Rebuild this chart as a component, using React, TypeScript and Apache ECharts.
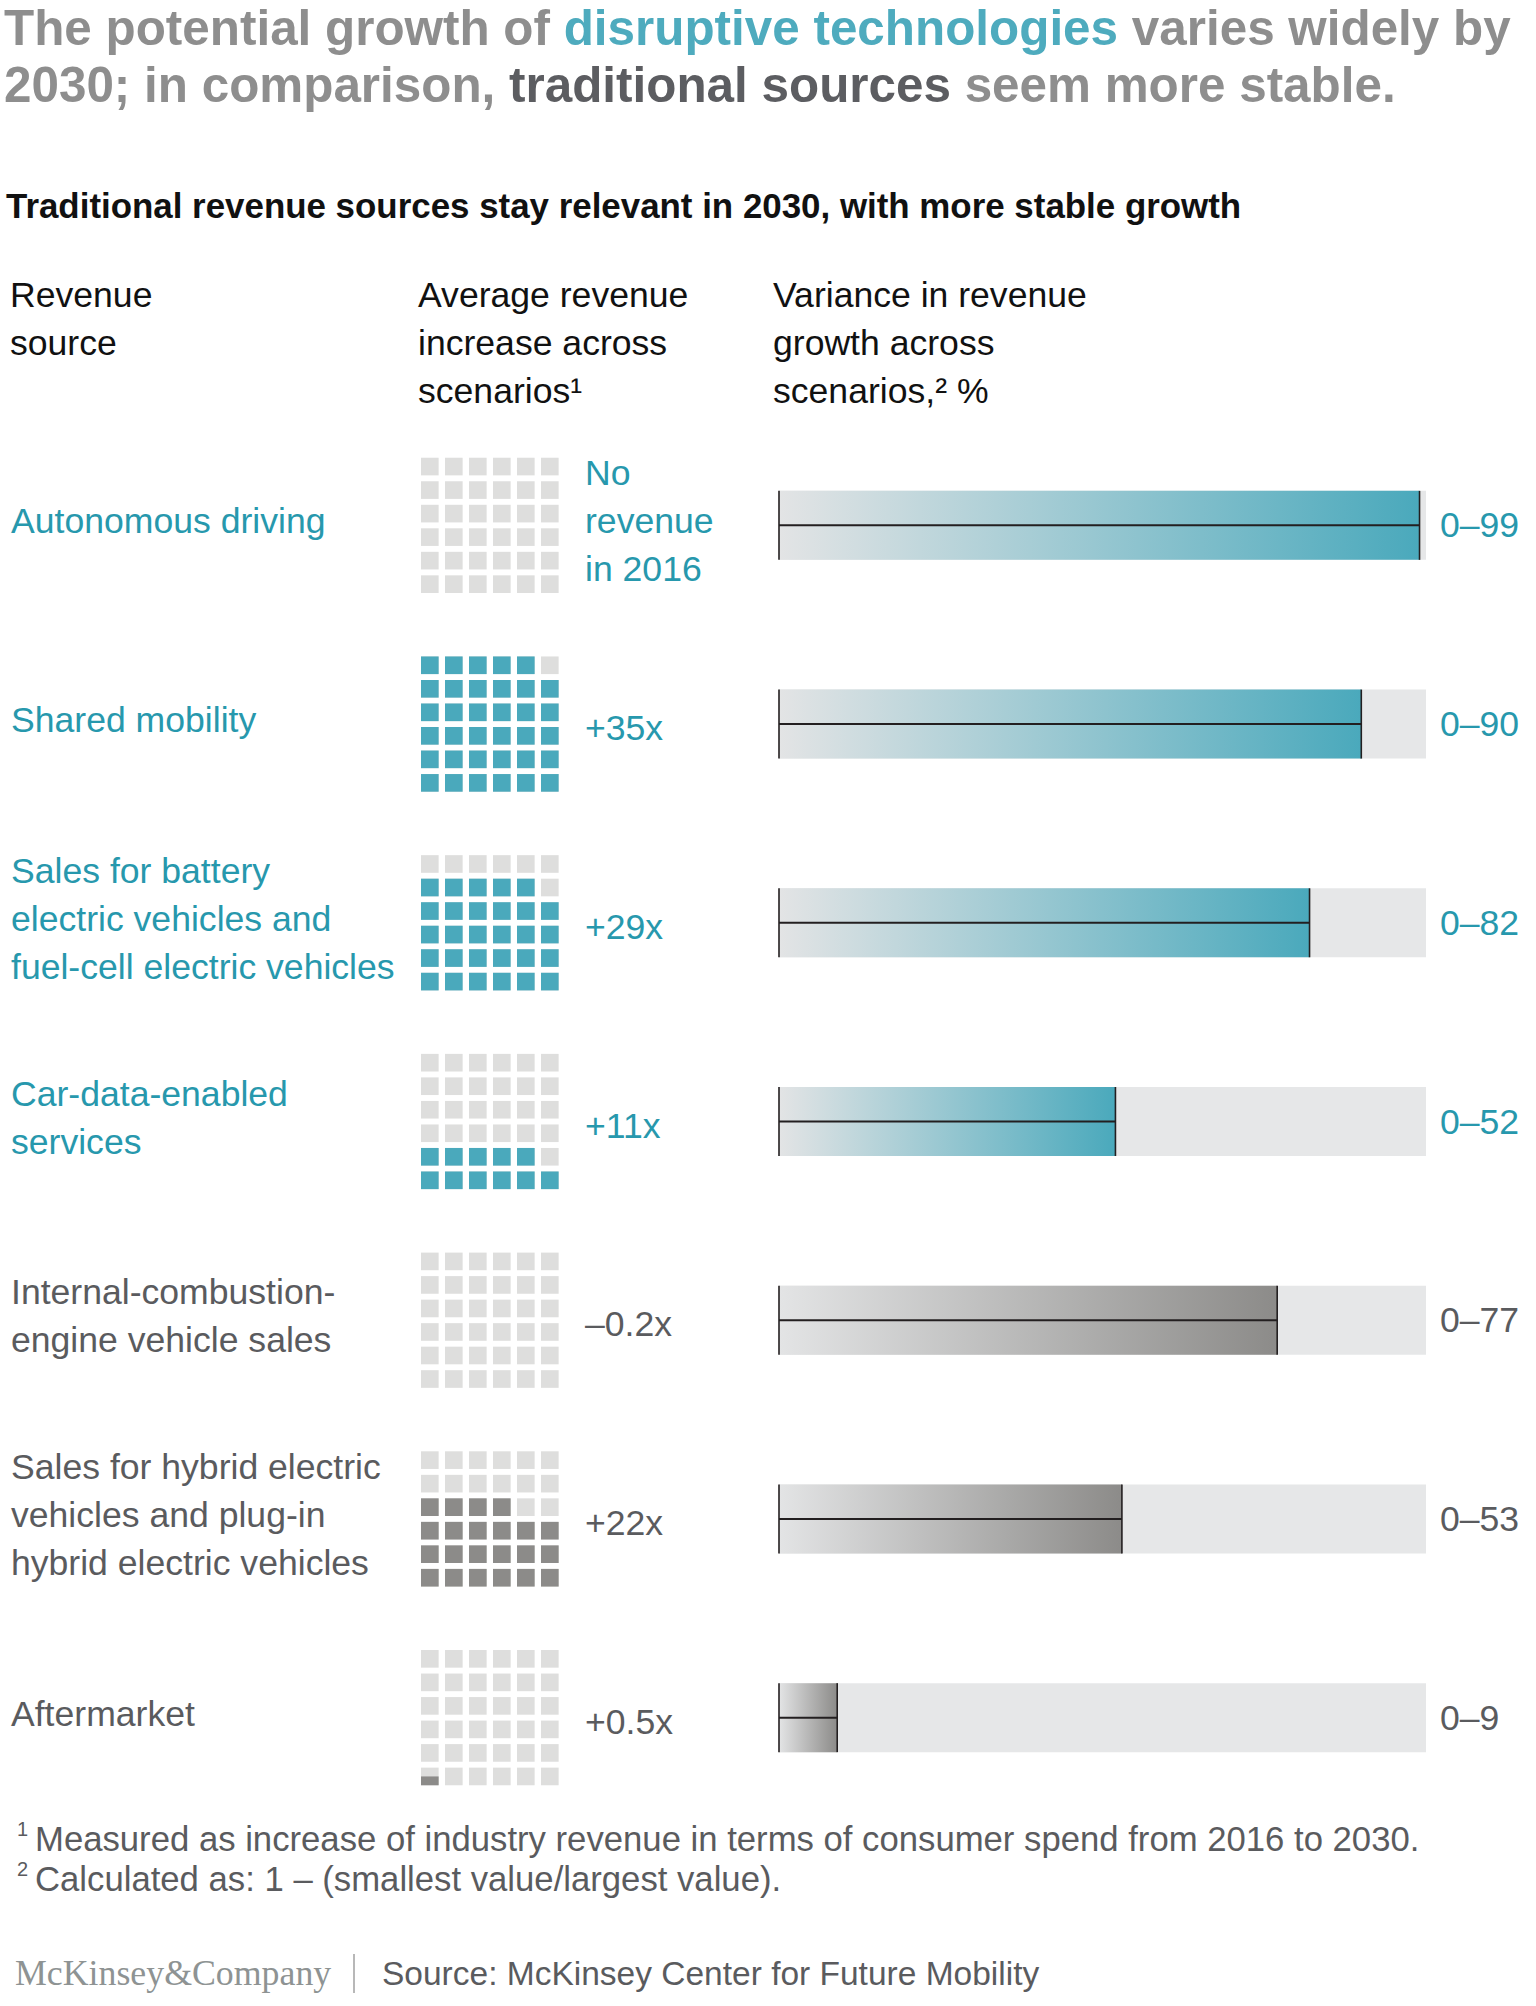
import React, { useEffect, useRef } from "react";
import * as echarts from "echarts";

// ---------- data ----------
const categories = [
  "Autonomous driving",
  "Shared mobility",
  "Sales for battery\nelectric vehicles and\nfuel-cell electric vehicles",
  "Car-data-enabled\nservices",
  "Internal-combustion-\nengine vehicle sales",
  "Sales for hybrid electric\nvehicles and plug-in\nhybrid electric vehicles",
  "Aftermarket",
];
const groups = ["disruptive", "disruptive", "disruptive", "disruptive", "traditional", "traditional", "traditional"];
const growthMultiple: (number | null)[] = [null, 35, 29, 11, -0.2, 22, 0.5];
const growthLabels = ["No\nrevenue\nin 2016", "+35x", "+29x", "+11x", "–0.2x", "+22x", "+0.5x"];
const varianceMin = [0, 0, 0, 0, 0, 0, 0];
const varianceMax = [99, 90, 82, 52, 77, 53, 9];
const scaleMax = 100;
const waffleCols = 6;
const waffleRows = 6;

// ---------- styles ----------
const FONT = "'Liberation Sans', Arial, Helvetica, sans-serif";
const TEAL = "#4aa9bc";
const TEAL_TEXT = "#2798ad";
const GRAY_TEXT = "#5a5b5e";
const LIGHT_CELL = "#dededd";
const DARK_CELL = "#8c8b89";
const TRACK = "#e6e7e8";
const LINE = "#231f20";

const BAR_LEFT = 779;
const BAR_WIDTH = 647;
const ROWS_TOP = 426;
const ROWS_HEIGHT = 1391;
const BAR_THICK = 69;

const WAFFLE_LEFT = 421;
const WAFFLE_UNIT = 24;

function labelColor(_v: any, i: number) {
  return groups[i] === "disruptive" ? TEAL_TEXT : GRAY_TEXT;
}

function text(x: number, y: number, t: string, extra: any = {}) {
  return {
    type: "text",
    x,
    y,
    silent: true,
    style: {
      text: t,
      fontFamily: FONT,
      fontSize: 35.6,
      fill: "#111111",
      align: "left",
      verticalAlign: "middle",
      textAlign: "left",
      textVerticalAlign: "middle",
      ...extra,
    },
  };
}

export default function App() {
  const ref = useRef<HTMLDivElement | null>(null);

  useEffect(() => {
    if (!ref.current) return;
    const chart = echarts.init(ref.current, undefined, { renderer: "svg" });

    const gradients = varianceMax.map((v, i) => ({
      value: v,
      itemStyle: {
        color: new echarts.graphic.LinearGradient(0, 0, 1, 0, [
          { offset: 0, color: "#e3e4e5" },
          { offset: 1, color: groups[i] === "disruptive" ? TEAL : DARK_CELL },
        ]),
      },
    }));

    const option: any = {
      animation: false,
      textStyle: { fontFamily: FONT },
      grid: [
        { left: BAR_LEFT, width: BAR_WIDTH, top: ROWS_TOP, height: ROWS_HEIGHT, containLabel: false, outerBoundsMode: "none" },
        { left: WAFFLE_LEFT, width: WAFFLE_UNIT * waffleCols, top: ROWS_TOP, height: ROWS_HEIGHT, containLabel: false, outerBoundsMode: "none" },
      ],
      xAxis: [
        { type: "value", gridIndex: 0, min: 0, max: scaleMax, show: false },
        { type: "value", gridIndex: 1, min: 0, max: waffleCols, show: false },
      ],
      yAxis: [
        {
          type: "category",
          gridIndex: 0,
          data: categories,
          inverse: true,
          axisLine: { show: false },
          axisTick: { show: false },
          splitLine: { show: false },
          axisLabel: {
            interval: 0,
            margin: BAR_LEFT - 11,
            align: "left",
            fontFamily: FONT,
            fontSize: 35.6,
            lineHeight: 48,
            color: labelColor,
            formatter: (v: string) =>
              v
                .split("\n")
                .map((l) => `{m|${l}}`)
                .join("\n"),
            rich: {
              m: { fontFamily: FONT, fontSize: 35.6, lineHeight: 48, padding: [0, 0, 8, 0] },
            },
          },
        },
        {
          type: "category",
          gridIndex: 0,
          position: "right",
          data: categories,
          inverse: true,
          axisLine: { show: false },
          axisTick: { show: false },
          splitLine: { show: false },
          axisLabel: {
            interval: 0,
            margin: 14,
            align: "left",
            fontFamily: FONT,
            fontSize: 35.6,
            color: labelColor,
            formatter: (_v: string, i: number) => `${varianceMin[i]}–${varianceMax[i]}`,
          },
        },
        {
          type: "category",
          gridIndex: 1,
          position: "right",
          data: categories,
          inverse: true,
          axisLine: { show: false },
          axisTick: { show: false },
          splitLine: { show: false },
          axisLabel: {
            interval: 0,
            margin: 20,
            align: "left",
            fontFamily: FONT,
            fontSize: 35.6,
            lineHeight: 48,
            color: labelColor,
            formatter: (_v: string, i: number) => {
              const lines = growthLabels[i].split("\n");
              if (lines.length > 1) return lines.map((l) => `{m|${l}}`).join("\n");
              return `{s|${lines[0]}}`;
            },
            rich: {
              m: { fontFamily: FONT, fontSize: 35.6, lineHeight: 48, padding: [0, 0, 8, 0] },
              s: { fontFamily: FONT, fontSize: 35.6, lineHeight: 48, padding: [8, 0, 0, 0] },
            },
          },
        },
      ],
      series: [
        {
          type: "bar",
          xAxisIndex: 0,
          yAxisIndex: 0,
          data: categories.map(() => scaleMax),
          barWidth: BAR_THICK,
          barGap: "-100%",
          itemStyle: { color: TRACK },
          silent: true,
        },
        {
          type: "bar",
          xAxisIndex: 0,
          yAxisIndex: 0,
          data: gradients,
          barWidth: BAR_THICK,
          barGap: "-100%",
          silent: true,
        },
        {
          type: "custom",
          xAxisIndex: 0,
          yAxisIndex: 0,
          silent: true,
          z: 5,
          data: varianceMax.map((v, i) => [v, i, varianceMin[i]]),
          encode: { x: 0, y: 1 },
          renderItem: (_params: any, api: any) => {
            const row = api.value(1);
            const p0 = api.coord([api.value(2), row]);
            const p1 = api.coord([api.value(0), row]);
            const h = BAR_THICK / 2;
            const st = { stroke: LINE, lineWidth: 1.6 };
            return {
              type: "group",
              children: [
                { type: "line", shape: { x1: p0[0], y1: p0[1] - h, x2: p0[0], y2: p0[1] + h }, style: st },
                { type: "line", shape: { x1: p1[0], y1: p1[1] - h, x2: p1[0], y2: p1[1] + h }, style: st },
                { type: "line", shape: { x1: p0[0], y1: p0[1], x2: p1[0], y2: p1[1] }, style: { stroke: LINE, lineWidth: 2 } },
              ],
            };
          },
        },
        {
          type: "custom",
          xAxisIndex: 1,
          yAxisIndex: 2,
          silent: true,
          data: growthMultiple.map((g, i) => [Math.max(0, g ?? 0), i]),
          encode: { x: 0, y: 1 },
          renderItem: (_params: any, api: any) => {
            const fill = api.value(0);
            const row = api.value(1);
            const unit = api.size([1, 0])[0];
            const cell = unit * 0.735;
            const pitchY = unit * 0.98;
            const center = api.coord([0, row]);
            const top = center[1] - ((waffleRows - 1) * pitchY + cell) / 2;
            const color = groups[row] === "disruptive" ? TEAL : DARK_CELL;
            const children: any[] = [];
            for (let r = 0; r < waffleRows; r++) {
              for (let c = 0; c < waffleCols; c++) {
                const k = (waffleRows - 1 - r) * waffleCols + c;
                const x = api.coord([c, row])[0];
                const y = top + r * pitchY;
                children.push({ type: "rect", shape: { x, y, width: cell, height: cell }, style: { fill: LIGHT_CELL } });
                const f = Math.max(0, Math.min(1, fill - k));
                if (f > 0) {
                  children.push({
                    type: "rect",
                    shape: { x, y: y + cell * (1 - f), width: cell, height: cell * f },
                    style: { fill: color },
                  });
                }
              }
            }
            return { type: "group", children };
          },
        },
      ],
      graphic: [
        text(4, 27.5, "{g|The potential growth of }{t|disruptive technologies}{g| varies widely by}", {
          fontSize: 49.4,
          fontWeight: "bold",
          rich: {
            g: { fill: "#8e8e8e", color: "#8e8e8e", fontSize: 49.4, fontWeight: "bold", fontFamily: FONT },
            t: { fill: "#4eabbe", color: "#4eabbe", fontSize: 49.4, fontWeight: "bold", fontFamily: FONT },
          },
        }),
        text(4, 84, "{g|2030; in comparison, }{d|traditional sources}{g| seem more stable.}", {
          fontSize: 49.4,
          fontWeight: "bold",
          rich: {
            g: { fill: "#8e8e8e", color: "#8e8e8e", fontSize: 49.4, fontWeight: "bold", fontFamily: FONT },
            d: { fill: "#5c5d61", color: "#5c5d61", fontSize: 49.4, fontWeight: "bold", fontFamily: FONT },
          },
        }),
        text(6, 205, "Traditional revenue sources stay relevant in 2030, with more stable growth", {
          fontSize: 34.9,
          fontWeight: "bold",
          fill: "#111111",
        }),
        text(10, 271, "Revenue\nsource", { verticalAlign: "top", textVerticalAlign: "top", lineHeight: 48 }),
        text(418, 271, "Average revenue\nincrease across\nscenarios¹", { verticalAlign: "top", textVerticalAlign: "top", lineHeight: 48 }),
        text(773, 271, "Variance in revenue\ngrowth across\nscenarios,² %", { verticalAlign: "top", textVerticalAlign: "top", lineHeight: 48 }),
        text(17, 1829, "1", { fontSize: 20, fill: GRAY_TEXT }),
        text(35, 1839, "Measured as increase of industry revenue in terms of consumer spend from 2016 to 2030.", {
          fontSize: 34.7,
          fill: GRAY_TEXT,
        }),
        text(17, 1869, "2", { fontSize: 20, fill: GRAY_TEXT }),
        text(35, 1879, "Calculated as: 1 – (smallest value/largest value).", { fontSize: 34.7, fill: GRAY_TEXT }),
        text(15, 1973, "McKinsey&Company", {
          fontSize: 35.8,
          fontFamily: "'Liberation Serif', 'DejaVu Serif', serif",
          fill: "#8e9393",
        }),
        {
          type: "line",
          silent: true,
          shape: { x1: 354, y1: 1954, x2: 354, y2: 1993 },
          style: { stroke: "#a0a0a0", lineWidth: 1.5 },
        },
        text(382, 1973, "Source: McKinsey Center for Future Mobility", { fontSize: 33.5, fill: GRAY_TEXT }),
      ],
    };

    chart.setOption(option);
    return () => chart.dispose();
  }, []);

  return (
    <div
      ref={ref}
      style={{ position: "absolute", left: 0, top: 0, width: 1536, height: 2006, background: "#ffffff" }}
    />
  );
}
